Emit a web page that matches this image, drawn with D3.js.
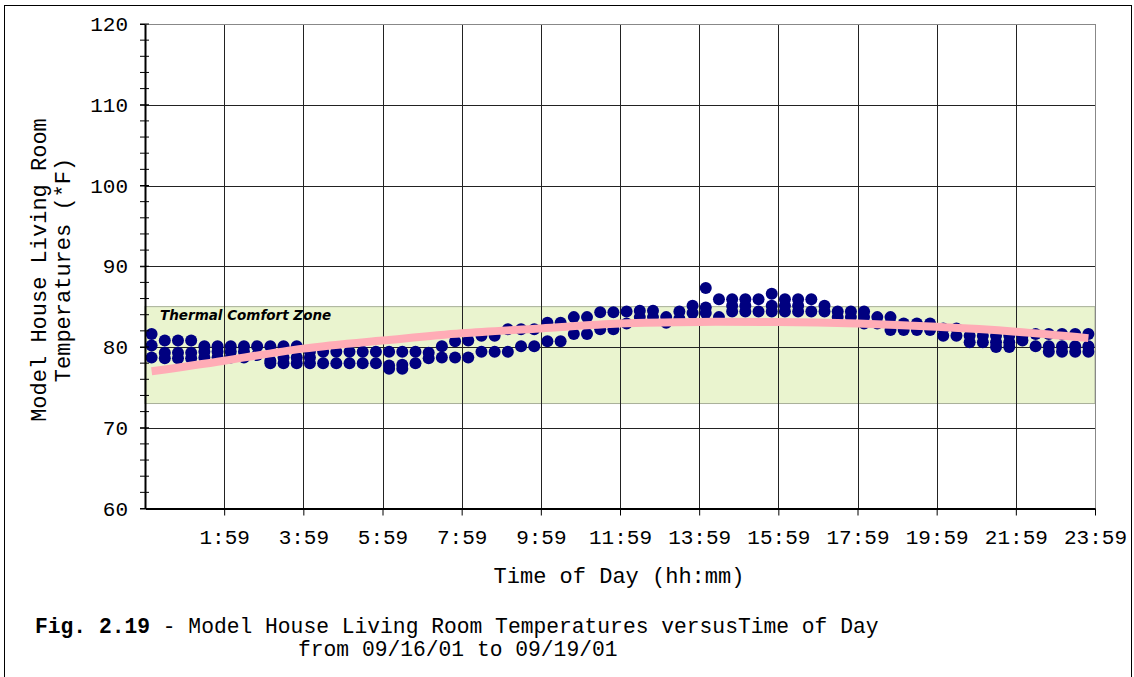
<!DOCTYPE html>
<html>
<head>
<meta charset="utf-8">
<script src="https://cdn.jsdelivr.net/npm/d3@7"></script>
<style>
  body { margin: 0; background: #fff; }
  text { font-family: "Liberation Mono", "Courier New", monospace; fill: #000; }
</style>
</head>
<body>
<svg id="chart" width="1134" height="677"></svg>
<script>
// readings per 20-minute slot (0:00-0:19 ... 23:40-23:59), all four days
const readings = [
  [81.6, 80.2, 78.7], [80.8, 79.3, 78.6], [80.8, 79.3, 78.6], [80.8, 79.3, 78.6],
  [80.1, 79.4, 78.7], [80.1, 79.4, 78.7], [80.1, 79.4, 78.7], [80.1, 79.4, 78.7],
  [80.1, 79.0], [80.1, 78.3, 78.0], [80.1, 78.7, 78.0], [80.1, 78.7, 78.0],
  [79.4, 78.7, 78.0], [79.4, 78.0], [79.4, 78.0], [79.4, 78.0],
  [79.4, 78.0], [79.4, 78.0], [79.4, 77.7, 77.3], [79.4, 77.8, 77.3],
  [79.4, 78.0], [79.3, 78.6], [80.1, 78.7], [80.7, 78.7],
  [80.8, 78.7], [81.4, 79.4], [81.4, 79.4], [82.2, 79.4],
  [82.2, 80.1], [82.2, 80.1], [83.0, 80.7], [83.0, 80.7],
  [83.7, 81.6], [83.7, 81.6], [84.3, 82.2], [84.3, 82.2],
  [84.4, 82.9], [84.5, 83.7], [84.5, 83.7], [83.7, 83.0],
  [84.4, 83.5], [85.1, 84.2], [87.3, 84.9, 84.2], [85.9, 83.7],
  [85.9, 85.1, 84.4], [85.9, 85.1, 84.4], [85.9, 84.4], [86.6, 85.1, 84.4],
  [85.9, 85.1, 84.4], [85.9, 85.1, 84.4], [85.9, 84.4], [85.1, 84.4],
  [84.4, 83.7], [84.4, 83.7], [84.4, 83.7, 82.9], [83.7, 82.9],
  [83.7, 82.9, 82.1], [82.9, 82.1], [82.9, 82.1], [82.9, 82.1],
  [82.3, 81.4], [82.3, 81.4], [81.4, 80.6], [81.4, 80.6],
  [81.4, 80.6, 80.0], [81.4, 80.6, 80.0], [81.4, 80.8], [81.6, 80.1],
  [81.6, 80.1, 79.4], [81.6, 80.1, 79.4], [81.6, 80.1, 79.4], [81.6, 80.1, 79.4]
];

// trend line (slot position, degrees F)
const trendSlots = [0.5, 6, 12, 18, 24, 30, 36, 42, 48, 54, 60, 66, 71.5];
const trendTemps = [77.0, 78.3, 79.8, 80.8, 81.7, 82.3, 82.9, 83.1, 83.1, 82.9, 82.5, 81.9, 81.1];

const tickLabels = ['1:59', '3:59', '5:59', '7:59', '9:59', '11:59',
  '13:59', '15:59', '17:59', '19:59', '21:59', '23:59'];
const comfortZone = [73, 85];

const svg = d3.select('#chart');
const margin = {left: 145, right: 1095, top: 24, bottom: 508.5};

const slotToX = d3.scaleLinear().domain([0, readings.length]).range([margin.left, margin.right]);
const tempToY = d3.scaleLinear().domain([60, 120]).range([margin.bottom, margin.top]);

// outer frame
svg.append('rect')
  .attr('x', 4.5).attr('y', 5.5).attr('width', 1127).attr('height', 700)
  .attr('fill', 'none').attr('stroke', '#000');

// comfort zone band
svg.append('rect')
  .attr('x', margin.left)
  .attr('y', tempToY(comfortZone[1]))
  .attr('width', margin.right - margin.left)
  .attr('height', tempToY(comfortZone[0]) - tempToY(comfortZone[1]))
  .attr('fill', '#eaf4cf')
  .attr('stroke', '#a8b098').attr('stroke-width', 1);

svg.append('text')
  .attr('x', 160).attr('y', 320)
  .style('font-family', '"DejaVu Sans", sans-serif')
  .style('font-size', '13.5px').style('font-style', 'italic').style('font-weight', 'bold')
  .text('Thermal Comfort Zone');

// grid
const tickSlots = tickLabels.map((d, i) => (i + 1) * 6);
svg.append('g').selectAll('line')
  .data(tickSlots)
  .enter().append('line')
  .attr('x1', d => Math.round(slotToX(d)) + 0.5).attr('x2', d => Math.round(slotToX(d)) + 0.5)
  .attr('y1', margin.top).attr('y2', margin.bottom)
  .attr('stroke', d => d === 72 ? '#888' : '#222');
svg.append('g').selectAll('line')
  .data([70, 80, 90, 100, 110, 120])
  .enter().append('line')
  .attr('x1', margin.left).attr('x2', margin.right)
  .attr('y1', d => Math.round(tempToY(d)) + 0.5).attr('y2', d => Math.round(tempToY(d)) + 0.5)
  .attr('stroke', d => d === 120 ? '#888' : '#222');

// points
const points = readings.flatMap((vals, i) => vals.map(v => ({slot: i + 0.5, temp: v})));
svg.append('g').selectAll('circle')
  .data(points)
  .enter().append('circle')
  .attr('cx', d => slotToX(d.slot))
  .attr('cy', d => tempToY(d.temp))
  .attr('r', 6)
  .attr('fill', '#000080');

// trend line
const trend = d3.line()
  .x((d, i) => slotToX(trendSlots[i]))
  .y(d => tempToY(d))
  .curve(d3.curveNatural);
svg.append('path')
  .attr('d', trend(trendTemps))
  .attr('fill', 'none')
  .attr('stroke', '#ffacb6')
  .attr('stroke-width', 8);

// axes
const yAxis = d3.axisLeft(tempToY)
  .tickValues([60, 70, 80, 90, 100, 110, 120])
  .tickSizeInner(5).tickSizeOuter(0).tickPadding(12);
const yAxisG = svg.append('g')
  .attr('transform', 'translate(' + margin.left + ', 0)')
  .call(yAxis);
yAxisG.selectAll('text').style('font-size', '21px').style('font-family', '"Liberation Mono", monospace');
yAxisG.select('.domain').attr('stroke-width', 2);

// minor ticks crossing the y axis
svg.append('g').selectAll('line')
  .data(d3.range(60, 121, 2))
  .enter().append('line')
  .attr('x1', margin.left - 5).attr('x2', margin.left + 4)
  .attr('y1', d => tempToY(d)).attr('y2', d => tempToY(d))
  .attr('stroke', '#000');

const xAxis = d3.axisBottom(slotToX)
  .tickValues(tickSlots)
  .tickFormat((d, i) => tickLabels[i])
  .tickSizeInner(7).tickSizeOuter(0).tickPadding(14);
const xAxisG = svg.append('g')
  .attr('transform', 'translate(0, ' + margin.bottom + ')')
  .call(xAxis);
xAxisG.selectAll('text').style('font-size', '21px').style('font-family', '"Liberation Mono", monospace');
xAxisG.select('.domain').attr('stroke-width', 2);

// titles
svg.append('text')
  .attr('x', 619).attr('y', 583)
  .attr('text-anchor', 'middle')
  .style('font-size', '22px')
  .text('Time of Day (hh:mm)');

const yTitle = svg.append('text')
  .attr('transform', 'translate(46, 270) rotate(-90)')
  .attr('text-anchor', 'middle')
  .style('font-size', '22px');
yTitle.append('tspan').attr('x', 0).attr('dy', 0).text('Model House Living Room');
yTitle.append('tspan').attr('x', 0).attr('dy', 24).text('Temperatures (*F)');

// caption
const caption = svg.append('text')
  .attr('x', 35).attr('y', 633)
  .style('font-size', '21.3px');
caption.append('tspan').style('font-weight', 'bold').text('Fig. 2.19');
caption.append('tspan').text(' - Model House Living Room Temperatures versusTime of Day');
svg.append('text')
  .attr('x', 298).attr('y', 656)
  .style('font-size', '21.3px')
  .text('from 09/16/01 to 09/19/01');
</script>
</body>
</html>
